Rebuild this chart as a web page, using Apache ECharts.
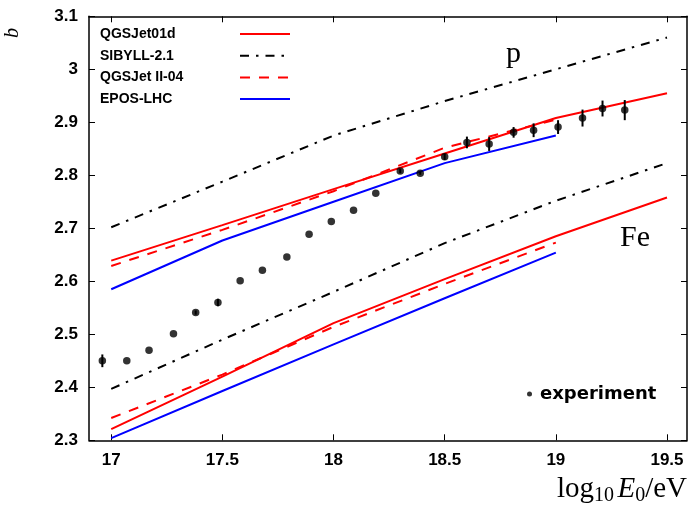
<!DOCTYPE html>
<html>
<head>
<meta charset="utf-8">
<script src="https://cdn.jsdelivr.net/npm/echarts@6/dist/echarts.min.js"></script>
<style>
  html, body { margin: 0; padding: 0; background: #fff; }
  #chart { width: 691px; height: 507px; }
</style>
</head>
<body>
<div id="chart"></div>
<script>
// Energy grid of the simulated curves (log10 E0/eV)
const modelE   = [17, 17.5, 18, 18.5, 19, 19.5];
const modelE19 = [17, 17.5, 18, 18.5, 19];

// Slope parameter b predicted by each hadronic model, for protons and iron
const qgs01dP   = [2.639, 2.706, 2.774, 2.841, 2.908, 2.955];
const qgs01dFe  = [2.321, 2.420, 2.521, 2.604, 2.685, 2.758];
const sibyllP   = [2.702, 2.788, 2.875, 2.940, 3.000, 3.060];
const sibyllFe  = [2.397, 2.490, 2.580, 2.672, 2.752, 2.823];
const qgs2P     = [2.629, 2.697, 2.770, 2.852, 2.905];
const qgs2Fe    = [2.342, 2.424, 2.514, 2.595, 2.673];
const eposP     = [2.585, 2.677, 2.750, 2.823, 2.875];
const eposFe    = [2.304, 2.393, 2.481, 2.568, 2.654];

// Measured values with their statistical errors
const expE   = [16.96, 17.07, 17.17, 17.28, 17.38, 17.48, 17.58, 17.68, 17.79, 17.89, 17.99, 18.09,
                18.19, 18.30, 18.39, 18.50, 18.60, 18.70, 18.81, 18.90, 19.01, 19.12, 19.21, 19.31];
const expB   = [2.450, 2.450, 2.470, 2.501, 2.541, 2.560, 2.601, 2.621, 2.646, 2.689, 2.713, 2.734,
                2.766, 2.808, 2.804, 2.835, 2.862, 2.859, 2.881, 2.885, 2.891, 2.908, 2.926, 2.923];
const expErr = [0.012, 0, 0, 0, 0.004, 0.007, 0, 0, 0, 0, 0, 0,
                0, 0.004, 0.003, 0.006, 0.011, 0.013, 0.010, 0.013, 0.013, 0.016, 0.015, 0.019];

// Axis ticks
const xTicks = [17, 17.5, 18, 18.5, 19, 19.5];
const yTicks = [2.3, 2.4, 2.5, 2.6, 2.7, 2.8, 2.9, 3, 3.1];

// Model names and line styles
const modelNames = ['QGSJet01d', 'SIBYLL-2.1', 'QGSJet II-04', 'EPOS-LHC'];

const pair = (xs, ys) => ys.map((y, i) => [xs[i], y]);

const styles = {
  'QGSJet01d':    { color: '#ff0000', type: 'solid' },
  'SIBYLL-2.1':   { color: '#000000', type: [9, 7, 2.5, 7] },
  'QGSJet II-04': { color: '#ff0000', type: [10, 9] },
  'EPOS-LHC':     { color: '#0000ff', type: 'solid' }
};

function curve(name, xs, ys) {
  const s = styles[name];
  return {
    name: name,
    type: 'line',
    xAxisIndex: 0, yAxisIndex: 0,
    data: pair(xs, ys),
    symbol: 'none',
    silent: true,
    animation: false,
    color: s.color,
    lineStyle: { color: s.color, width: 2, type: s.type },
    z: 2
  };
}

const axisColor = '#000';
const tickFont = { fontFamily: 'Liberation Sans', fontWeight: 'bold', fontSize: 17, color: '#000' };

const xMin = 16.9, xMax = 19.59, yMin = 2.3, yMax = 3.1;

const chart = echarts.init(document.getElementById('chart'), null, { renderer: 'canvas' });

chart.setOption({
  animation: false,
  backgroundColor: '#fff',
  grid: { left: 89, right: 4, top: 16.3, bottom: 66.7, containLabel: false },
  xAxis: [
    {
      type: 'value', min: xMin, max: xMax, position: 'bottom',
      axisLine: { show: true, lineStyle: { color: axisColor, width: 1.5 } },
      axisTick: { show: true, inside: true, length: 6, customValues: xTicks, lineStyle: { color: axisColor, width: 1 } },
      axisLabel: { show: true, margin: 12, customValues: xTicks, ...tickFont },
      splitLine: { show: false }
    },
    {
      type: 'value', min: xMin, max: xMax, position: 'top',
      axisLine: { show: true, lineStyle: { color: axisColor, width: 1.5 } },
      axisTick: { show: true, inside: true, length: 6, customValues: xTicks, lineStyle: { color: axisColor, width: 1 } },
      axisLabel: { show: false },
      splitLine: { show: false }
    }
  ],
  yAxis: [
    {
      type: 'value', min: yMin, max: yMax, position: 'left',
      axisLine: { show: true, lineStyle: { color: axisColor, width: 1.5 } },
      axisTick: { show: true, inside: true, length: 6, customValues: yTicks, lineStyle: { color: axisColor, width: 1 } },
      axisLabel: { show: true, margin: 11, customValues: yTicks, ...tickFont },
      splitLine: { show: false }
    },
    {
      type: 'value', min: yMin, max: yMax, position: 'right',
      axisLine: { show: true, lineStyle: { color: axisColor, width: 1.5 } },
      axisTick: { show: true, inside: true, length: 6, customValues: yTicks, lineStyle: { color: axisColor, width: 1 } },
      axisLabel: { show: false },
      splitLine: { show: false }
    }
  ],
  legend: [
    {
      data: modelNames,
      orient: 'vertical',
      left: 95, top: 22,
      align: 'right',
      itemWidth: 50, itemHeight: 14, itemGap: 7.7,
      selectedMode: false,
      itemStyle: { opacity: 0 },
      formatter: '{t|{name}}',
      textStyle: {
        fontFamily: 'Liberation Sans', fontWeight: 'bold', fontSize: 14, color: '#000',
        rich: { t: { width: 135, align: 'left', fontFamily: 'Liberation Sans', fontWeight: 'bold', fontSize: 14, color: '#000' } }
      }
    },
    {
      data: [{ name: 'experiment', icon: 'circle' }],
      left: 522, top: 380,
      itemWidth: 5, itemHeight: 5,
      selectedMode: false,
      textStyle: { fontFamily: 'DejaVu Sans', fontWeight: 'bold', fontSize: 18, color: '#000', padding: [0, 0, 0, 3] }
    }
  ],
  graphic: [
    {
      type: 'text', x: 12.5, y: 33, rotation: Math.PI / 2,
      style: { text: 'b', font: 'italic 20px "Liberation Serif"', fill: '#000', align: 'center', verticalAlign: 'middle' }
    },
    {
      type: 'text', x: 687, y: 489,
      style: {
        text: '{a|log}{s|10} {i|E}{s|0}{a|/eV}',
        align: 'right', verticalAlign: 'middle',
        rich: {
          a: { fontFamily: 'Liberation Serif', fontSize: 29, lineHeight: 34, verticalAlign: 'middle', fill: '#000' },
          i: { fontFamily: 'Liberation Serif', fontStyle: 'italic', fontSize: 29, lineHeight: 34, verticalAlign: 'middle', fill: '#000' },
          s: { fontFamily: 'Liberation Serif', fontSize: 20, lineHeight: 17, verticalAlign: 'bottom', fill: '#000' }
        }
      }
    },
    {
      type: 'text', x: 506, y: 54,
      style: { text: 'p', font: '30px "Liberation Serif"', fill: '#000', align: 'left', verticalAlign: 'middle' }
    },
    {
      type: 'text', x: 620, y: 238,
      style: { text: 'Fe', font: '30px "Liberation Serif"', fill: '#000', align: 'left', verticalAlign: 'middle' }
    }
  ],
  series: [
    curve('QGSJet01d', modelE, qgs01dP),
    curve('QGSJet01d', modelE, qgs01dFe),
    curve('SIBYLL-2.1', modelE, sibyllP),
    curve('SIBYLL-2.1', modelE, sibyllFe),
    curve('QGSJet II-04', modelE19, qgs2P),
    curve('QGSJet II-04', modelE19, qgs2Fe),
    curve('EPOS-LHC', modelE19, eposP),
    curve('EPOS-LHC', modelE19, eposFe),
    {
      name: 'errors',
      type: 'custom',
      silent: true,
      data: expE.map((x, i) => [x, expB[i], expErr[i]]),
      renderItem: function (params, api) {
        const x = api.value(0), y = api.value(1), e = api.value(2);
        if (!e) return null;
        const lo = api.coord([x, y - e]);
        const hi = api.coord([x, y + e]);
        return {
          type: 'line',
          shape: { x1: lo[0], y1: lo[1], x2: hi[0], y2: hi[1] },
          style: { stroke: '#000', lineWidth: 2 }
        };
      },
      z: 3
    },
    {
      name: 'experiment',
      type: 'scatter',
      data: pair(expE, expB),
      symbol: 'circle',
      symbolSize: 7.5,
      color: '#000',
      itemStyle: { color: '#000' },
      silent: true,
      z: 4
    }
  ]
});
</script>
</body>
</html>
